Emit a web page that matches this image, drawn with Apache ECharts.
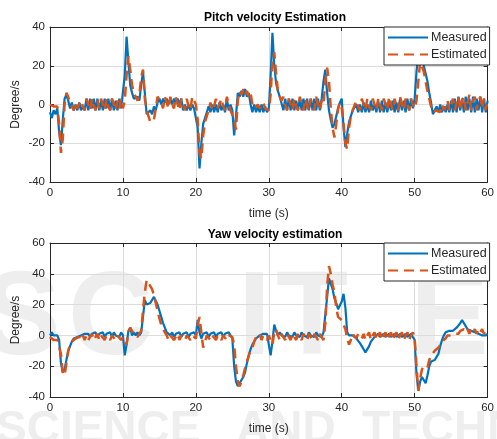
<!DOCTYPE html>
<html>
<head>
<meta charset="utf-8">
<script src="https://cdn.jsdelivr.net/npm/echarts@6/dist/echarts.min.js"></script>
<style>
  html, body { margin: 0; padding: 0; background: #fff; }
  #chart { width: 497px; height: 439px; }
</style>
</head>
<body>
<div id="chart"></div>
<script>
// Sample grid: one reading every 0.25 s over 60 s
const sampleStep = 0.25;
const sampleCount = 241;

const xTicks = { min: 0, max: 60, interval: 10 };
const pitchTicks = { min: -40, max: 40, interval: 20 };
const yawTicks = { min: -40, max: 60, interval: 20 };

const seriesNames = ['Measured', 'Estimated'];
const plotTitles = ['Pitch velocity Estimation', 'Yaw velocity estimation'];

// Pitch velocity (deg/s)
const pitchMeasured = [
  -4,-7,-3,-5,-2,-14,-21,-8,3,5, 2,-2,1,-3,0,-3,1,-3,-1,-3,
  3,-3,3,-2,3,-3,3,-3,2,-3, 3,-2,3,-3,3,-3,2,-3,3,-2,
  -1,15,35,22,10,6,3,2,4,2, 10,17,6,-5,-4,-3,-5,-1,-3,1,
  3,0,3,1,3,0,3,0,3,1, 3,0,3,-3,0,-3,0,-3,0,-2,
  -1,-12,-33,-20,-10,-7,-4,-1,-4,0, -4,0,-4,1,-3,0,-4,3,-3,0,
  -3,-16,-6,6,4,7,4,8,4,6, 0,-4,0,-4,-1,-4,0,-4,-1,-4,
  -2,15,37,20,11,7,4,3,-3,3, -3,3,-3,3,-3,2,-3,3,-3,3,
  -3,3,-3,3,-3,3,-3,3,-3,3, 12,18,6,-3,-8,-12,-10,-6,-2,1,
  3,-12,-22,-15,-9,-6,-3,-2,0,-4, 0,-4,1,-4,0,-4,2,-3,0,-4,
  2,-4,2,-4,1,-4,2,-3,2,-4, 1,-4,3,-3,2,-4,3,-3,3,-2,
  3,17,26,28,25,20,16,12,6,1, -5,-6,-1,-4,0,-4,-1,-4,0,-4,
  2,-4,3,-4,4,-3,3,-4,4,-3, 3,-4,4,-4,3,-3,4,-4,3,-4, 2
];
const pitchEstimated = [
  0,0,-1,-1,-1,-10,-25,-18,0,6, 4,1,-1,-3,1,-2,-3,2,-1,-3,
  3,0,-3,3,-1,-3,2,-2,3,0, -3,3,-1,-3,3,0,-3,2,-2,3,
  -2,2,15,25,18,10,6,4,2,5, 14,18,3,-3,-6,-9,-10,-8,-2,4,
  4,1,-2,4,1,-2,4,0,-2,4, 0,-3,3,0,-3,3,-1,-3,4,3,
  0,-8,-25,-28,-16,-9,-6,-3,1,-3, -1,3,-2,-3,3,-1,-3,4,0,-3,
  -2,-8,-13,2,7,5,8,5,7,4, 6,0,-2,-3,0,-2,-3,1,-2,-3,
  -3,5,22,27,16,7,4,2,4,0, -3,3,0,-3,3,-1,-3,4,0,-3,
  3,0,-3,3,-1,-3,4,0,-3,2, 0,12,19,12,-2,-12,-17,-10,-2,1,
  -2,-10,-20,-23,-12,-6,-3,-2,2,-1, -3,3,0,-3,3,-1,-3,3,0,-3,
  3,0,-3,3,0,-3,4,0,-3,3, -1,-3,4,0,-3,3,0,-3,3,0,
  -2,2,12,22,22,17,12,7,3,-1, -4,-5,-3,-2,-4,0,-3,-1,2,-3,
  0,3,-3,1,4,-3,2,4,-3,1, 5,-3,2,4,-3,2,4,-2,3,-3, 3
];

// Yaw velocity (deg/s)
const yawMeasured = [
  0,2,0,1,0,-3,-18,-24,-22,-16, -10,-7,-4,-2,-3,-1,-2,0,-1,1,
  0,1,-1,1,0,2,-1,1,0,2, -1,1,0,2,-1,2,0,1,-1,2,
  0,-13,-6,3,5,0,2,0,2,0, 2,12,23,20,19,21,22,25,26,20,
  16,12,8,5,2,1,0,2,-1,1, 0,2,-1,1,0,2,-1,1,0,2,
  0,10,2,-2,1,0,2,-1,1,0, 2,-1,1,0,2,-1,1,0,2,0,
  -2,-20,-30,-33,-31,-29,-27,-24,-18,-13, -9,-6,-4,-2,-2,0,-1,1,0,1,
  0,-13,-4,7,3,0,2,0,1,-1, 2,0,1,-1,2,0,1,-1,2,0,
  1,-1,2,0,1,-1,2,0,1,-1, 2,3,25,37,38,30,24,21,17,16,
  22,27,18,2,0,1,0,-1,-2,-3, -5,-7,-9,-11,-11,-7,-4,-3,-1,0,
  1,-1,0,1,-1,0,1,-1,0,1, -1,0,1,-1,0,1,-1,0,1,-1,
  -3,-25,-36,-30,-27,-29,-31,-26,-20,-17, -17,-16,-15,-12,-7,-3,0,2,2,3,
  3,3,4,5,6,8,10,9,6,4, 4,3,2,2,1,1,2,0,1,0, 1
];
const yawEstimated = [
  -1,-2,-3,-3,-3,-4,-12,-24,-26,-18, -10,-6,-4,-3,-2,-3,-1,-3,0,-3,
  0,-3,-1,1,-3,-1,1,-3,0,1, -3,0,1,-3,0,1,-3,0,1,-3,
  -1,-4,-6,2,5,3,0,1,-1,1, 3,16,28,36,35,32,30,26,21,16,
  11,7,4,2,0,-3,0,1,-3,-1, 1,-3,0,1,-3,0,1,-3,0,1,
  -2,7,12,2,-8,-4,0,1,-3,0, 1,-3,0,1,-3,0,1,-3,0,1,
  -1,-6,-20,-30,-33,-30,-26,-21,-17,-13, -10,-8,-4,-1,-2,1,-3,0,1,-3,
  0,-3,-6,2,4,0,-3,1,0,-3, 1,0,-3,1,0,-3,1,0,-3,1,
  0,-3,1,0,-3,1,0,-3,1,0, -3,8,32,45,40,33,28,18,12,11,
  10,7,4,-2,-6,-3,1,2,-2,1, 2,-2,1,-3,0,2,-3,0,2,-3,
  0,2,-3,0,2,-3,0,2,-3,0, 2,-3,0,2,-3,0,2,-3,0,2,
  -2,-20,-36,-28,-22,-20,-19,-21,-16,-13, -12,-10,-9,-8,-6,-4,-3,-2,0,-1,
  0,-1,1,2,1,3,2,4,2,4, 1,4,2,4,1,4,2,4,1,3, 2
];

const times = Array.from({ length: sampleCount }, (_, i) => i * sampleStep);
const pair = (vals) => vals.map((v, i) => [times[i], v]);

const FONT = 'Liberation Sans, Arial, Helvetica, sans-serif';
const INK = '#262626';
const BLUE = '#0072BD';
const ORANGE = '#D95319';
const GRIDLINE = '#dcdcdc';
const NONE = 'rgba(0,0,0,0)';

const grids = [
  { left: 50, right: 7, top: 27, height: 155 },
  { left: 50, right: 7, top: 243, height: 154 }
];

const frameLine = { show: true, onZero: false, lineStyle: { color: INK, width: 1 } };
const innerTick = { show: true, inside: true, length: 4, lineStyle: { color: INK } };

function bottomX(gi) {
  return {
    type: 'value', gridIndex: gi, position: 'bottom',
    min: xTicks.min, max: xTicks.max, interval: xTicks.interval,
    name: 'time (s)', nameLocation: 'middle', nameGap: 26,
    nameTextStyle: { color: INK, fontFamily: FONT, fontSize: 12 },
    axisLine: frameLine, axisTick: innerTick,
    axisLabel: { color: INK, fontFamily: FONT, fontSize: 11.5, margin: 5 },
    splitLine: { show: true, lineStyle: { color: GRIDLINE, width: 1 } }
  };
}
function topX(gi) {
  return {
    type: 'value', gridIndex: gi, position: 'top',
    min: xTicks.min, max: xTicks.max, interval: xTicks.interval,
    axisLine: frameLine, axisTick: innerTick,
    axisLabel: { show: false },
    splitLine: { show: false }
  };
}
function leftY(gi, ticks) {
  return {
    type: 'value', gridIndex: gi, position: 'left',
    min: ticks.min, max: ticks.max, interval: ticks.interval,
    name: 'Degree/s', nameLocation: 'middle', nameGap: 28, nameMoveOverlap: false,
    nameTextStyle: { color: INK, fontFamily: FONT, fontSize: 12 },
    axisLine: frameLine, axisTick: innerTick,
    axisLabel: { color: INK, fontFamily: FONT, fontSize: 11.5, margin: 5 },
    splitLine: { show: true, lineStyle: { color: GRIDLINE, width: 1 } }
  };
}
function rightY(gi, ticks) {
  return {
    type: 'value', gridIndex: gi, position: 'right',
    min: ticks.min, max: ticks.max, interval: ticks.interval,
    axisLine: frameLine, axisTick: innerTick,
    axisLabel: { show: false },
    splitLine: { show: false }
  };
}

function measuredSeries(name, data, xi, yi) {
  return {
    name, type: 'line', xAxisIndex: xi, yAxisIndex: yi, data: pair(data),
    symbol: 'none', smooth: false, animation: false, z: 3,
    lineStyle: { color: BLUE, width: 2.2 },
    itemStyle: { color: NONE, borderColor: NONE, borderWidth: 0 }
  };
}
function estimatedSeries(name, data, xi, yi) {
  return {
    name, type: 'line', xAxisIndex: xi, yAxisIndex: yi, data: pair(data),
    symbol: 'none', smooth: false, animation: false, z: 4,
    lineStyle: { color: ORANGE, width: 2.5, type: [10, 6] },
    itemStyle: { color: NONE, borderColor: NONE, borderWidth: 0 }
  };
}

function legendAt(top, gi) {
  return {
    data: seriesNames.map(n => n + (gi ? ' ' : '')),
    left: 384, top: top, orient: 'vertical',
    padding: [4, 3, 4, 3], itemGap: 4,
    itemWidth: 40, itemHeight: 14,
    backgroundColor: '#fff', borderColor: INK, borderWidth: 1,
    itemStyle: { color: NONE, borderColor: NONE, borderWidth: 0 },
    textStyle: { color: INK, fontFamily: FONT, fontSize: 12.5, padding: [0, 0, 0, -2] },
    formatter: (n) => n.trim(),
    z: 10
  };
}

// Faint publisher mark printed behind the plots
const markColor = '#eeeeee';
const markLetters = [
  { ch: 'S', x: -18 }, { ch: 'C', x: 68 }, { ch: 'I', x: 238 },
  { ch: 'T', x: 276 }, { ch: 'E', x: 410 }
];
const watermark = markLetters.map(l => ({
  type: 'text', left: l.x, top: 262, z: -10, silent: true,
  style: { text: l.ch, fill: markColor, font: 'bold 118px ' + FONT }
})).concat([
  { type: 'text', left: -4, top: 407, z: -10, silent: true,
    style: { text: 'SCIENCE', fill: markColor, font: 'bold 46px ' + FONT } },
  { type: 'text', left: 236, top: 407, z: -10, silent: true,
    style: { text: 'AND', fill: markColor, font: 'bold 46px ' + FONT } },
  { type: 'text', left: 362, top: 407, z: -10, silent: true,
    style: { text: 'TECHNOLOGY', fill: markColor, font: 'bold 46px ' + FONT } }
]);

const chart = echarts.init(document.getElementById('chart'), null, { renderer: 'canvas' });
chart.setOption({
  animation: false,
  backgroundColor: '#fff',
  graphic: watermark,
  title: [
    { text: plotTitles[0], left: 270, top: 7, textAlign: 'center',
      textStyle: { color: '#000', fontFamily: FONT, fontSize: 12, fontWeight: 'bold' } },
    { text: plotTitles[1], left: 270, top: 224, textAlign: 'center',
      textStyle: { color: '#000', fontFamily: FONT, fontSize: 12, fontWeight: 'bold' } }
  ],
  legend: [legendAt(27, 0), legendAt(243, 1)],
  grid: grids,
  xAxis: [bottomX(0), topX(0), bottomX(1), topX(1)],
  yAxis: [leftY(0, pitchTicks), rightY(0, pitchTicks), leftY(1, yawTicks), rightY(1, yawTicks)],
  series: [
    measuredSeries(seriesNames[0], pitchMeasured, 0, 0),
    estimatedSeries(seriesNames[1], pitchEstimated, 0, 0),
    measuredSeries(seriesNames[0] + ' ', yawMeasured, 2, 2),
    estimatedSeries(seriesNames[1] + ' ', yawEstimated, 2, 2)
  ]
});
</script>
</body>
</html>
